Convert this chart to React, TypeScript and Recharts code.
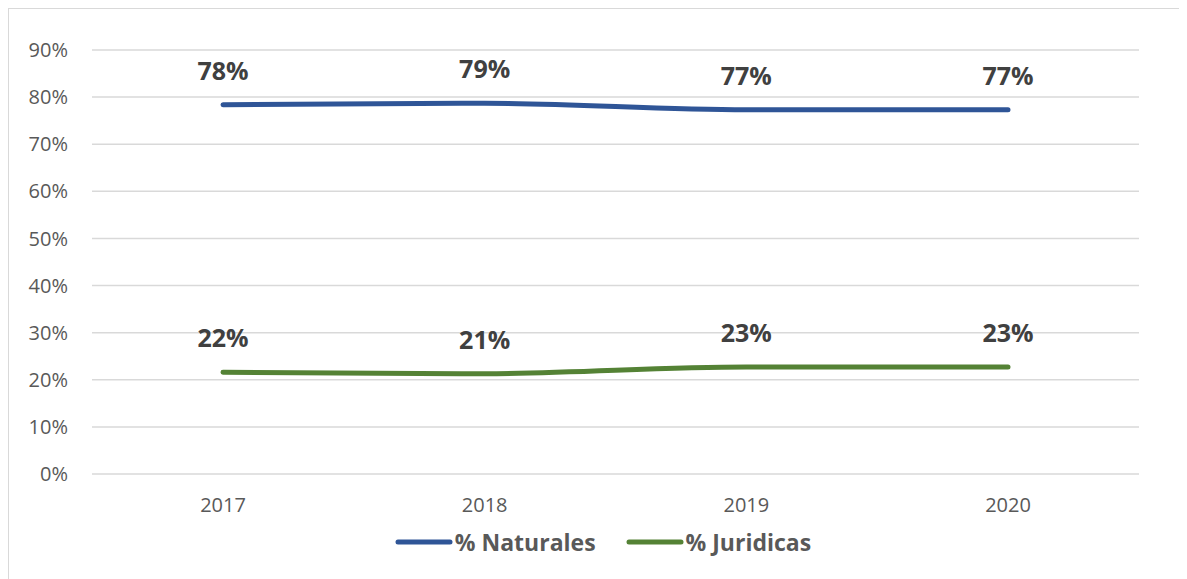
import React from "react";
import { LineChart, Line, XAxis, YAxis, CartesianGrid, LabelList, Legend } from "recharts";

const years = ["2017", "2018", "2019", "2020"];
const naturales = [78.4, 78.7, 77.3, 77.3];
const juridicas = [21.6, 21.3, 22.7, 22.7];
const yTicks = [0, 10, 20, 30, 40, 50, 60, 70, 80, 90];

const data = years.map((y, i) => ({ year: y, naturales: naturales[i], juridicas: juridicas[i] }));

const FONT = "'Open Sans', Lato, sans-serif";
const BLUE = "#2F5597";
const GREEN = "#548235";

const legendItems = [
  { name: "% Naturales", color: BLUE },
  { name: "% Juridicas", color: GREEN },
];

const renderLegend = () => (
  <div style={{ display: "flex", justifyContent: "center", alignItems: "center", fontFamily: FONT, fontWeight: 700, fontSize: 23, color: "#595959", paddingLeft: 58 }}>
    {legendItems.map((it, i) => (
      <div key={it.name} style={{ display: "flex", alignItems: "center", marginLeft: i ? 30 : 0 }}>
        <svg width={58} height={8} style={{ marginRight: 2 }}>
          <line x1={3} y1={4} x2={55} y2={4} stroke={it.color} strokeWidth={5} strokeLinecap="round" />
        </svg>
        <span>{it.name}</span>
      </div>
    ))}
  </div>
);

export default function App() {
  return (
    <div style={{ width: 1170, height: 570, border: "1px solid #D9D9D9", background: "#fff" }}>
      <LineChart width={1170} height={570} data={data} margin={{ top: 41, right: 40, bottom: 39, left: 0 }}>
        <CartesianGrid vertical={false} stroke="#D9D9D9" strokeWidth={1.5} />
        <XAxis
          dataKey="year"
          axisLine={false}
          tickLine={false}
          tickSize={0}
          tickMargin={24}
          height={34}
          padding={{ left: 131, right: 131 }}
          tick={{ fill: "#595959", fontSize: 20, fontFamily: FONT }}
        />
        <YAxis
          domain={[0, 90]}
          ticks={yTicks}
          interval={0}
          width={83}
          axisLine={false}
          tickLine={false}
          tickSize={0}
          tickMargin={24}
          tickFormatter={(v: number) => `${v}%`}
          tick={{ fill: "#595959", fontSize: 20, fontFamily: FONT }}
        />
        <Legend content={renderLegend} verticalAlign="bottom" wrapperStyle={{ bottom: 21 }} />
        <Line type="monotone" dataKey="naturales" name="% Naturales" stroke={BLUE} strokeWidth={5} strokeLinecap="round" dot={false} isAnimationActive={false}>
          <LabelList dataKey="naturales" position="top" offset={25} formatter={(v: number) => `${Math.round(v)}%`} style={{ fill: "#404040", fontSize: 25, fontWeight: 700, fontFamily: FONT }} />
        </Line>
        <Line type="monotone" dataKey="juridicas" name="% Juridicas" stroke={GREEN} strokeWidth={5} strokeLinecap="round" dot={false} isAnimationActive={false}>
          <LabelList dataKey="juridicas" position="top" offset={25} formatter={(v: number) => `${Math.round(v)}%`} style={{ fill: "#404040", fontSize: 25, fontWeight: 700, fontFamily: FONT }} />
        </Line>
      </LineChart>
    </div>
  );
}
